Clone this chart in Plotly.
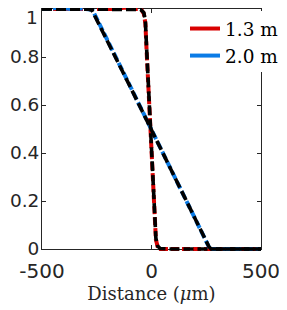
import plotly.graph_objects as go

# ---- data ----
x_13 = [-500, -470, -440, -400, -360, -320, -280, -240, -200, -160,
        -120, -90, -60, -45, -35, -28, -22, -15, -8, 0,
        8, 14, 20, 28, 40, 60, 100, 150, 200, 250,
        300, 350, 400, 450, 500]
y_13 = [1, 1, 1.003, 1, 1, 1.004, 1, 1, 1.003, 1,
        1.006, 1, 1, 0.995, 0.98, 0.94, 0.82, 0.68, 0.55, 0.42,
        0.25, 0.12, 0.04, 0.01, 0, 0, 0, 0, 0, 0,
        0, 0, 0, 0, 0]

x_fit13 = [-500, -200, -80, -50, -35, -28, -22, -15, -8, 0,
           8, 14, 20, 28, 40, 80, 200, 500]
y_fit13 = [1, 1, 1, 0.998, 0.985, 0.95, 0.83, 0.69, 0.56, 0.43,
           0.26, 0.13, 0.045, 0.012, 0.002, 0, 0, 0]

x_20 = [-500, -460, -430, -400, -370, -340, -310, -285, -270, -250,
        -200, -150, -100, -50, 0, 50, 100, 150, 200, 250,
        267, 300, 350, 400, 450, 500]
y_20 = [1, 1, 1.006, 1.002, 1, 1.004, 1, 1, 0.997, 0.96,
        0.87, 0.775, 0.683, 0.59, 0.497, 0.404, 0.311, 0.218, 0.125, 0.032,
        0, 0, 0, 0, 0, 0]

x_fit20 = [-500, -290, -272, -200, -100, 0, 100, 200, 262, 272, 300, 500]
y_fit20 = [1, 1, 0.995, 0.866, 0.681, 0.496, 0.31, 0.125, 0.01, 0, 0, 0]

series_names = ["1.3 m", "2.0 m"]
x_ticks = [-500, 0, 500]
x_ticktext = ["-500", "0", "500"]
y_ticks = [0, 0.2, 0.4, 0.6, 0.8, 1]
y_ticktext = ["0", "0.2", "0.4", "0.6", "0.8", "1"]

RED = "#d90000"
BLUE = "#0a7be6"
AX = "#262626"

# ---- geometry (figure px; the page adds an 8px body margin) ----
OFF = 8
W, H = 287 - OFF, 310 - OFF
ml, mr, mt, mb = 30, 22, 0, 57
pw, ph = W - ml - mr, H - mt - mb
bx0, bx1 = 42 - OFF, 261 - OFF      # visible box
by0, by1 = 9 - OFF, 249 - OFF


def px_x(p):
    return (p - OFF - ml) / pw


def px_y(p):
    return (mt + ph - (p - OFF)) / ph


xdom = [(bx0 - ml) / pw, (bx1 - ml) / pw]
ydom = [(mt + ph - by1) / ph, (mt + ph - by0) / ph]
upx = 1000 / (bx1 - bx0)
upy = 1 / (by1 - by0)
x2rng = [-500 - (bx0 - ml) * upx, 500 + (ml + pw - bx1) * upx]
y2rng = [0 - (mt + ph - by1) * upy, 1 + (by0 - mt) * upy]

fig = go.Figure()
fig.add_trace(go.Scatter(x=x_13, y=y_13, mode="lines", xaxis="x2", yaxis="y2",
                         line=dict(color=RED, width=4, dash="8px,3px"), showlegend=False))
fig.add_trace(go.Scatter(x=x_20, y=y_20, mode="lines", xaxis="x2", yaxis="y2",
                         line=dict(color=BLUE, width=4, dash="8px,3px"), showlegend=False))
fig.add_trace(go.Scatter(x=x_fit13, y=y_fit13, mode="lines", xaxis="x2", yaxis="y2",
                         line=dict(color="black", width=3.6, dash="10px,4px"), showlegend=False))
fig.add_trace(go.Scatter(x=x_fit20, y=y_fit20, mode="lines", xaxis="x2", yaxis="y2",
                         line=dict(color="black", width=3.6, dash="10px,4px"), showlegend=False))
# legend entries (on the visible axes so that they get drawn)
fig.add_trace(go.Scatter(x=[None], y=[None], mode="lines", xaxis="x", yaxis="y",
                         name=series_names[0], line=dict(color=RED, width=4)))
fig.add_trace(go.Scatter(x=[None], y=[None], mode="lines", xaxis="x", yaxis="y",
                         name=series_names[1], line=dict(color=BLUE, width=4)))

axcommon = dict(showline=True, linecolor=AX, linewidth=1, mirror="ticks",
                ticks="inside", ticklen=4, tickcolor=AX, tickwidth=1,
                showgrid=False, zeroline=False, ticklabeloverflow="allow")

YFONT = dict(family="DejaVu Sans", size=18.5, color=AX)

fig.update_layout(
    width=W, height=H,
    margin=dict(l=ml, r=mr, t=mt, b=mb, autoexpand=False),
    paper_bgcolor="white", plot_bgcolor="rgba(0,0,0,0)",
    xaxis=dict(domain=xdom, range=[-500, 500], anchor="y",
               tickvals=x_ticks, ticktext=x_ticktext, ticklabelstandoff=4,
               tickfont=dict(family="DejaVu Sans", size=20, color=AX),
               title=dict(text="Distance (<i>μ</i>m)", standoff=5,
                          font=dict(family="DejaVu Serif", size=18, color=AX)),
               **axcommon),
    # top label ("1") is placed as an annotation so that it stays inside the page
    yaxis=dict(domain=ydom, range=[0, 1], anchor="x", ticklabelstandoff=-2,
               tickfont=YFONT, tickvals=y_ticks[:-1], ticktext=y_ticktext[:-1],
               **axcommon),
    xaxis2=dict(domain=[0, 1], range=x2rng, anchor="y2", visible=False),
    yaxis2=dict(domain=[0, 1], range=y2rng, anchor="x2", visible=False),
    legend=dict(x=px_x(185), y=px_y(10), xanchor="left", yanchor="top",
                bgcolor="rgba(0,0,0,0)", borderwidth=0, tracegroupgap=0,
                font=dict(family="DejaVu Serif", size=18.5, color="black")),
    showlegend=True,
    annotations=[dict(text=y_ticktext[-1], xref="paper", yref="y",
                      x=xdom[0], y=y_ticks[-1], xanchor="right", yanchor="middle",
                      xshift=-2, yshift=-8, showarrow=False, font=YFONT)],
    shapes=[dict(type="rect", xref="paper", yref="paper", layer="above",
                 x0=px_x(248), x1=px_x(268), y0=px_y(72), y1=px_y(11),
                 fillcolor="white", line=dict(width=0))],
)

fig.write_html("out.html")
